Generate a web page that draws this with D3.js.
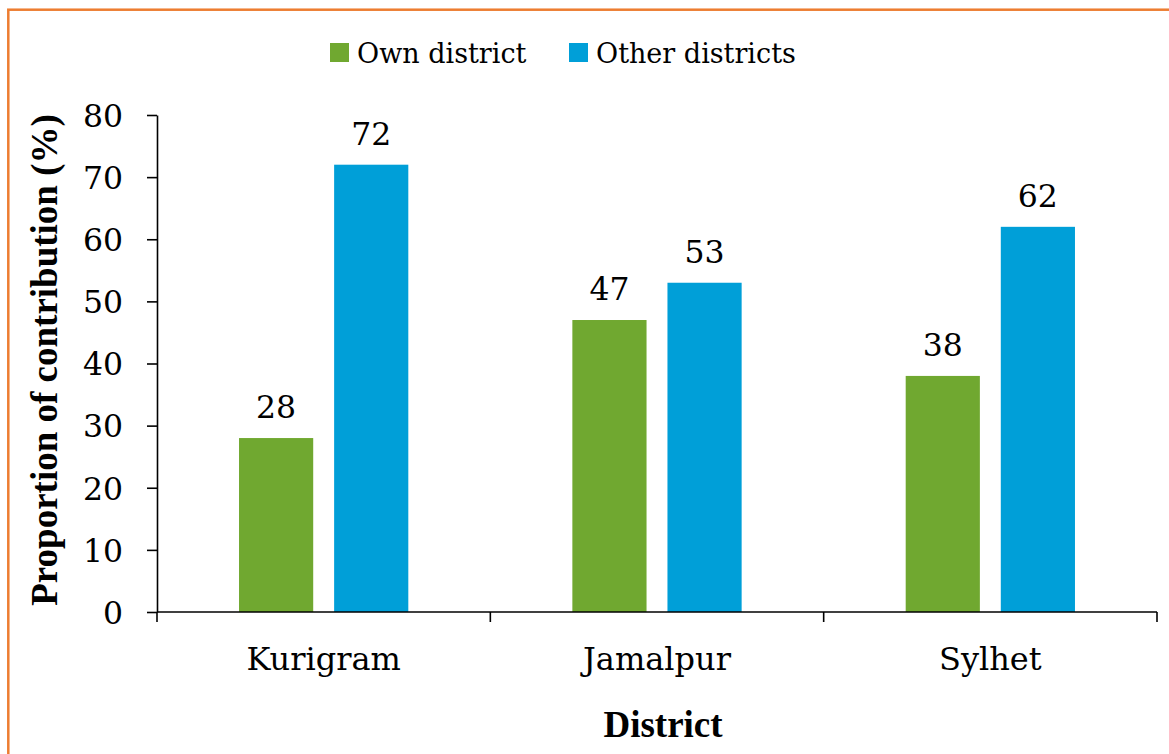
<!DOCTYPE html>
<html>
<head>
<meta charset="utf-8">
<script src="https://cdn.jsdelivr.net/npm/d3@7.9.0/dist/d3.min.js"></script>
<style>
  body { margin: 0; background: #fff; }
  svg { display: block; }
  text { font-family: "DejaVu Serif", serif; fill: #000; }
</style>
</head>
<body>
<svg id="chart" width="1169" height="754"></svg>
<script>
const categories = ['Kurigram', 'Jamalpur', 'Sylhet'];
const seriesNames = ['Own district', 'Other districts'];
const ownValues = [28, 47, 38];
const otherValues = [72, 53, 62];
const yTicks = [0, 10, 20, 30, 40, 50, 60, 70, 80];

const colors = { 'Own district': '#70A830', 'Other districts': '#009FD8' };
const FONT = '"DejaVu Serif", serif';
const BOLD_FONT = '"Liberation Serif", "DejaVu Serif", serif';

const svg = d3.select('#chart');
const width = 1169, height = 754;
const margin = { top: 115, right: 12, bottom: 142, left: 157 };
const plotW = width - margin.left - margin.right;
const plotH = height - margin.top - margin.bottom;

svg.append('rect').attr('width', width).attr('height', height).attr('fill', '#fff');

// orange frame (right and bottom run off the picture)
svg.append('rect')
  .attr('x', 8.3).attr('y', 9.7)
  .attr('width', width + 60).attr('height', height + 60)
  .attr('fill', 'none')
  .attr('stroke', '#ED7D31')
  .attr('stroke-width', 2.5);

const g = svg.append('g').attr('transform', `translate(${margin.left},${margin.top})`);

const x0 = d3.scaleBand().domain(categories).range([0, plotW]).padding(0);
const x1 = d3.scaleBand().domain(seriesNames).range([0, x0.bandwidth()])
  .paddingInner(0.22).paddingOuter(0.8625);
const y = d3.scaleLinear().domain([0, 80]).range([plotH, 0]);

const rows = categories.map((c, i) => ({
  category: c,
  values: [
    { series: 'Own district', value: ownValues[i] },
    { series: 'Other districts', value: otherValues[i] }
  ]
}));

// bars
const groups = g.selectAll('.grp').data(rows).join('g')
  .attr('class', 'grp')
  .attr('transform', (d) => `translate(${x0(d.category)},0)`);

groups.selectAll('rect').data((d) => d.values).join('rect')
  .attr('x', (d) => x1(d.series))
  .attr('y', (d) => y(d.value))
  .attr('width', x1.bandwidth())
  .attr('height', (d) => plotH - y(d.value))
  .attr('fill', (d) => colors[d.series]);

groups.selectAll('text.val').data((d) => d.values).join('text')
  .attr('class', 'val')
  .attr('x', (d) => x1(d.series) + x1.bandwidth() / 2)
  .attr('y', (d) => y(d.value) - 20)
  .attr('text-anchor', 'middle')
  .style('font-family', FONT)
  .style('font-size', '31.5px')
  .text((d) => d.value);

// y axis
const yAxis = g.append('g')
  .call(d3.axisLeft(y).tickValues(yTicks).tickSize(10).tickPadding(24).tickSizeOuter(0));
yAxis.select('.domain').attr('stroke', '#000').attr('stroke-width', 1.6);
yAxis.selectAll('.tick line').attr('stroke', '#000').attr('stroke-width', 1.6);
yAxis.selectAll('.tick text')
  .style('font-size', '31.5px')
  .style('font-family', FONT)
  .attr('dy', '0.36em');

// x axis: line, boundary ticks, category labels
const xAxis = g.append('g').attr('transform', `translate(0,${plotH})`);
xAxis.append('line')
  .attr('x1', 0).attr('x2', plotW)
  .attr('stroke', '#000').attr('stroke-width', 1.6);
const bounds = categories.map((c) => x0(c)).concat([x0.range()[1]]);
xAxis.selectAll('line.bt').data(bounds).join('line')
  .attr('class', 'bt')
  .attr('x1', (d) => d).attr('x2', (d) => d)
  .attr('y1', 0).attr('y2', 10)
  .attr('stroke', '#000').attr('stroke-width', 1.6);
xAxis.selectAll('text').data(categories).join('text')
  .attr('x', (d) => x0(d) + x0.bandwidth() / 2)
  .attr('y', 58)
  .attr('text-anchor', 'middle')
  .style('font-family', FONT)
  .style('font-size', '32px')
  .text((d) => d);

// axis titles
svg.append('text')
  .attr('transform', 'translate(57,360) rotate(-90)')
  .attr('text-anchor', 'middle')
  .style('font-family', BOLD_FONT)
  .style('font-size', '37px')
  .style('font-weight', 'bold')
  .text('Proportion of contribution (%)');

svg.append('text')
  .attr('x', 663).attr('y', 737)
  .attr('text-anchor', 'middle')
  .style('font-family', BOLD_FONT)
  .style('font-size', '37px')
  .style('font-weight', 'bold')
  .text('District');

// legend
const legendX = [330, 569];
const legend = svg.append('g');
const items = legend.selectAll('g').data(seriesNames).join('g')
  .attr('transform', (d, i) => `translate(${legendX[i]},43)`);
items.append('rect')
  .attr('width', 19).attr('height', 19)
  .attr('fill', (d) => colors[d]);
items.append('text')
  .attr('x', 27).attr('y', 20)
  .style('font-family', FONT)
  .style('font-size', '27px')
  .text((d) => d);
</script>
</body>
</html>
